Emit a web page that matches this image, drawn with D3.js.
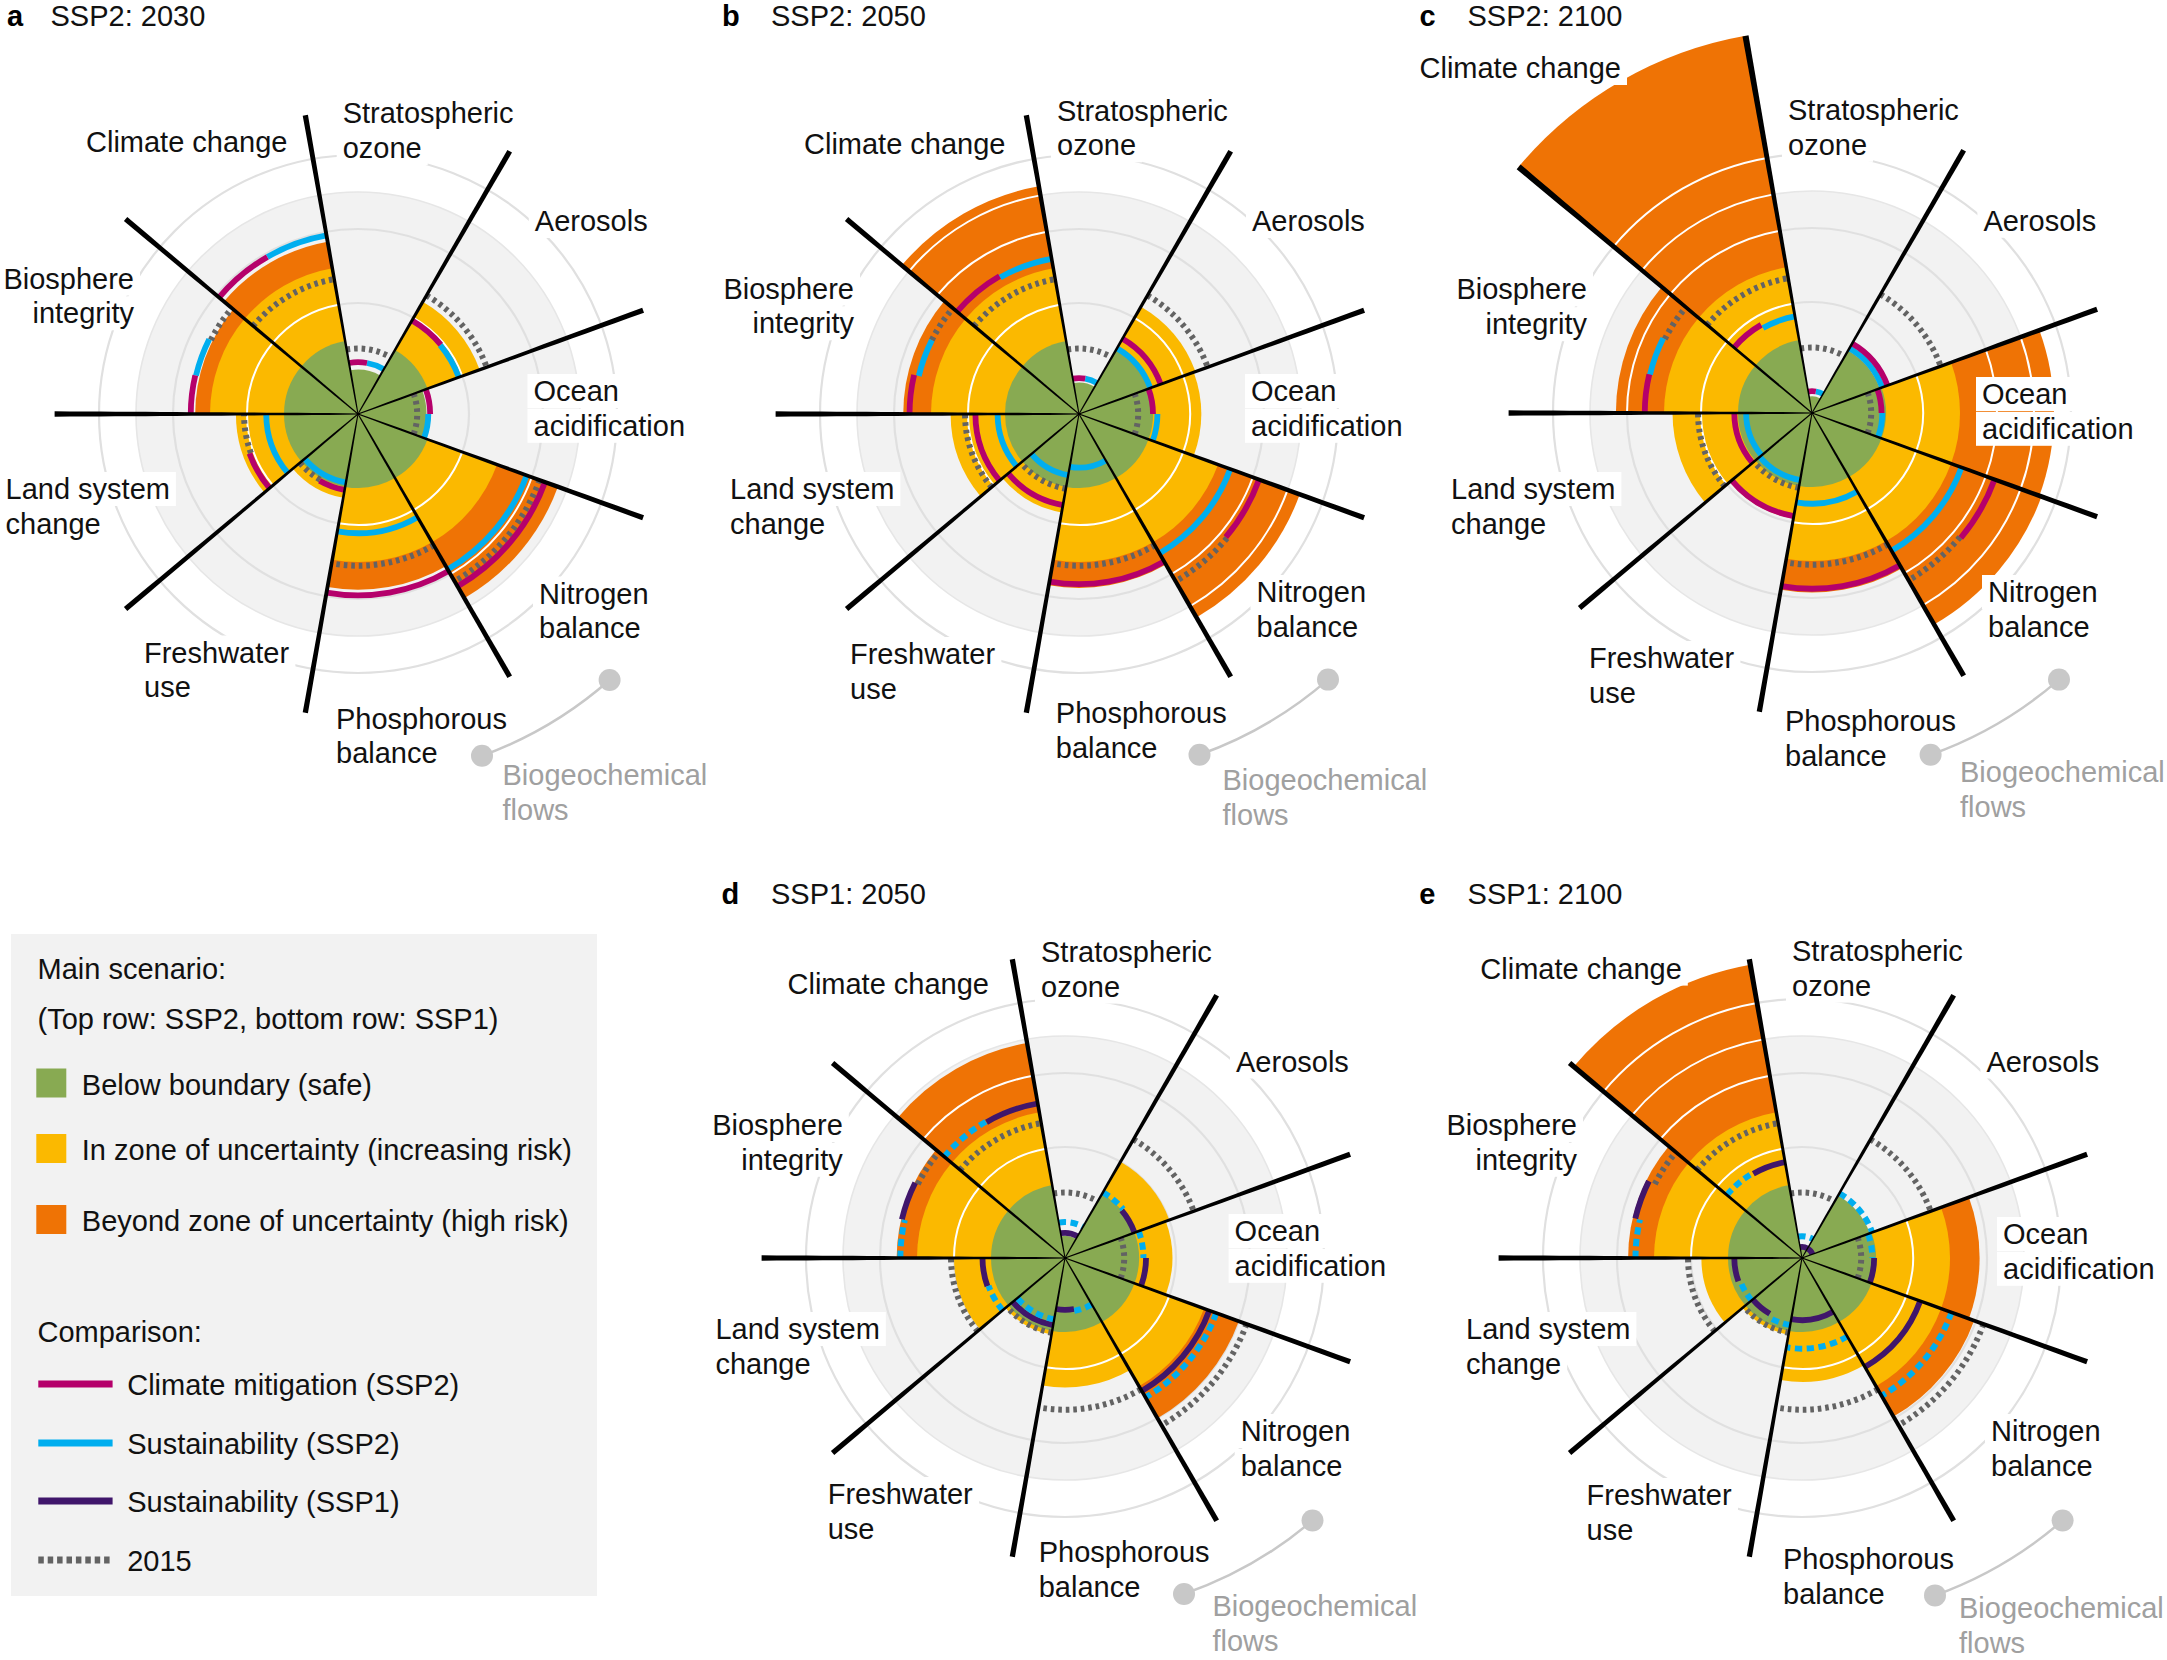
<!DOCTYPE html>
<html>
<head>
<meta charset="utf-8">
<script src="https://cdn.jsdelivr.net/npm/d3@7"></script>
<style>
html,body{margin:0;padding:0;background:#fff;}
svg text{font-family:"Liberation Sans",Arial,Helvetica,sans-serif;}
</style>
</head>
<body>
<svg id="fig" width="2167" height="1660" xmlns="http://www.w3.org/2000/svg"></svg>
<script>
// ---------- DATA (normalised control-variable units: 2 = boundary, 4 = top of zone of uncertainty) ----------
const boundaries = ["Climate change","Stratospheric ozone","Aerosols","Ocean acidification","Nitrogen balance","Phosphorous balance","Freshwater use","Land system change","Biosphere integrity"];
const labelLines = [["Climate change"],["Stratospheric","ozone"],["Aerosols"],["Ocean","acidification"],["Nitrogen","balance"],["Phosphorous","balance"],["Freshwater","use"],["Land system","change"],["Biosphere","integrity"]];

// main scenarios
const ssp2_2030 = [4.73, 1.2, 3.5, 1.85, 5.75, 4.75, 2.3, 3.3, 4.4];
const ssp2_2050 = [6.25, 0.85, 3.35, 3.3, 6.35, 4.7, 2.7, 3.47, 4.75];
const ssp2_2100 = [10.35, 0.45, 1.95, 6.54, 6.6, 4.85, 2.9, 3.77, 5.3];
const ssp1_2050 = [5.9, 0.6, 3.0, 2.9, 5.0, 3.5, 2.1, 3.0, 4.55];
const ssp1_2100 = [8.05, 0.3, 1.95, 4.8, 4.95, 3.35, 2.1, 2.72, 4.7];
// comparisons
const ref_2015        = [3.7, 1.77, 3.7, 1.6, 5.22, 4.1, 2.05, 3.08, 4.45];
const mitig_ssp2_2030 = [4.9, 1.4, 2.92, 1.95, 5.38, 4.9, 2.08, 3.12, 4.52];
const mitig_ssp2_2050 = [4.3, 0.97, 2.35, 2.0, 5.18, 4.6, 2.5, 2.8, 4.58];
const mitig_ssp2_2100 = [2.75, 0.59, 2.17, 1.88, 5.25, 4.75, 2.83, 2.1, 4.52];
const sust_ssp2_2030  = [4.9, 1.4, 2.9, 1.9, 4.85, 3.22, 1.88, 2.48, 4.5];
const sust_ssp2_2050  = [4.26, 0.97, 2.05, 2.12, 4.35, 1.45, 1.68, 2.2, 4.45];
const sust_ssp2_2100  = [2.65, 0.59, 2.02, 1.9, 4.3, 2.45, 1.84, 1.78, 4.5];
const sust_ssp1_2050  = [4.24, 0.68, 2.0, 2.19, 4.15, 1.4, 1.84, 2.23, 4.53];
const sust_ssp1_2100  = [2.63, 0.3, 0.3, 1.95, 3.4, 1.68, 1.74, 1.83, 4.63];

const COL = {safe:"#88aa52", zone:"#fbb900", high:"#ef7305", mitig:"#b5006b", sust2:"#00aeef", sust1:"#40166b", y2015:"#636363"};

// ---------- LAYOUT ----------
const charts = [
 {letter:"a", title:"SSP2: 2030", cx:358, cy:414, lx:7, tx:50.5, ty:26, main:ssp2_2030, ssp1:false,
  comps:[["y2015",ref_2015],["sust2",sust_ssp2_2030],["mitig",mitig_ssp2_2030]],
  labels:[[287.5,142.3],[342.7,113.3],[534.8,221],[533.5,391],[539,593.5],[336,718.5],[144,652.5],[5.5,489],[134,278.5]],
  bio:[502.5,775], dots:[[609.6,680],[482,755.8]]},
 {letter:"b", title:"SSP2: 2050", cx:1079, cy:414, lx:722, tx:771, ty:26, main:ssp2_2050, ssp1:false,
  comps:[["y2015",ref_2015],["sust2",sust_ssp2_2050],["mitig",mitig_ssp2_2050]],
  labels:[[1005.5,143.6],[1057,110.5],[1252,221],[1251,391],[1256.5,592],[1055.8,713],[850,654],[730,489],[854,288.5]],
  bio:[1222.5,780], dots:[[1328,679.6],[1199.5,754.7]]},
 {letter:"c", title:"SSP2: 2100", cx:1812, cy:413, lx:1419.6, tx:1467.5, ty:26, main:ssp2_2100, ssp1:false,
  comps:[["y2015",ref_2015],["sust2",sust_ssp2_2100],["mitig",mitig_ssp2_2100]],
  labels:[[1621,68],[1788,110],[1983.4,220.8],[1982,394],[1988,592],[1785,721],[1589,658],[1451,489],[1587,289.4]],
  bio:[1960,772], dots:[[2059,679.6],[1930.6,754.7]]},
 {letter:"d", title:"SSP1: 2050", cx:1065, cy:1258, lx:721.5, tx:771, ty:904, main:ssp1_2050, ssp1:true,
  comps:[["y2015",ref_2015],["sust1",sust_ssp1_2050],["sust2",sust_ssp2_2050]],
  labels:[[989,984],[1041,951.8],[1236,1061.5],[1234.6,1231],[1240.7,1431],[1038.7,1552],[827.7,1494],[715.4,1329],[842.8,1125]],
  bio:[1212.4,1606], dots:[[1312.5,1520.5],[1184,1594]]},
 {letter:"e", title:"SSP1: 2100", cx:1802, cy:1258, lx:1419.3, tx:1467.6, ty:904, main:ssp1_2100, ssp1:true,
  comps:[["y2015",ref_2015],["sust1",sust_ssp1_2100],["sust2",sust_ssp2_2100]],
  labels:[[1681.8,968.6],[1792,950.8],[1986.4,1061.5],[2003,1234],[1991,1431],[1783,1558.7],[1586.6,1495],[1466,1329],[1577,1125]],
  bio:[1959,1608], dots:[[2062.6,1520.5],[1935,1595.4]]}
];
const labelAnchor = ["end","start","start","start","start","start","start","start","end"];

const FS = 29, LH = 34.8;
const rScale = d3.scaleLinear().domain([0,1]).range([0,37]);
const aScale = d3.scaleBand().domain(boundaries).range([-50*Math.PI/180, 310*Math.PI/180]).padding(0);
const BW = aScale.bandwidth();
const GRID = [3,5,6,7];
const THR = 0.13;

const svg = d3.select("#fig");
svg.append("rect").attr("width",2167).attr("height",1660).attr("fill","#fff");

function arcStroke(r, a0, a1){
  const p = d3.path();
  p.arc(0,0,r,a0-Math.PI/2,a1-Math.PI/2,false);
  return p.toString();
}

function compStyle(key, ssp1){
  if(key==="y2015") return {c:COL.y2015, dash:"3.6,3.9", w:6};
  if(key==="mitig") return {c:COL.mitig, dash:null, w:5.8};
  if(key==="sust1") return {c:COL.sust1, dash:null, w:5.8};
  return ssp1 ? {c:COL.sust2, dash:"7.3,4.5", w:6} : {c:COL.sust2, dash:null, w:5.8};
}

function layoutComps(comps, i, a0, a1){
  const items = comps.map((c,k)=>({key:c[0], v:c[1][i], order:k}));
  const sorted = items.slice().sort((p,q)=>p.v-q.v);
  const groups=[]; let cur=[sorted[0]];
  for(let j=1;j<sorted.length;j++){
    if(sorted[j].v - sorted[j-1].v < THR) cur.push(sorted[j]);
    else {groups.push(cur); cur=[sorted[j]];}
  }
  groups.push(cur);
  const out=[];
  groups.forEach(g=>{
    g.sort((p,q)=>p.order-q.order);
    const w=(a1-a0)/g.length;
    g.forEach((it,idx)=>out.push(Object.assign({}, it, {s:a1-(idx+1)*w, e:a1-idx*w})));
  });
  out.sort((p,q)=>p.order-q.order);
  return out;
}

function addLabel(parent, lines, x, cy, anchor, color){
  const t = parent.append("g");
  lines.forEach((s,j)=>{
    const tx = t.append("text").attr("x",x).attr("y",cy+10+j*LH)
     .attr("text-anchor",anchor).attr("font-size",FS).attr("fill",color).text(s);
    const bb = tx.node().getBBox();
    t.insert("rect","text").attr("x",bb.x-6).attr("y",bb.y-1).attr("width",bb.width+12).attr("height",bb.height+2).attr("fill","#fff");
  });
}

// width profile of the divider lines (thin at centre, bold at the rim)
const lineWidth = r => 1.0 + 4.3*Math.pow(r/303, 0.75);

charts.forEach(ch=>{
  const g = svg.append("g").attr("transform",`translate(${ch.cx},${ch.cy})`);
  // background disc and grid
  g.append("circle").attr("r",rScale(6)).attr("fill","#f2f2f2");
  [3,5,7].forEach(k=>g.append("circle").attr("r",rScale(k)).attr("fill","none").attr("stroke","#e0e0e0").attr("stroke-width",2.2));
  g.append("circle").attr("r",rScale(6)).attr("fill","none").attr("stroke","#e6e6e6").attr("stroke-width",1.6);

  const arcGen = d3.arc();
  // wedges
  boundaries.forEach((b,i)=>{
    const a0=aScale(b), a1=a0+BW, v=ch.main[i];
    const layers=[];
    if(v>4) layers.push([v,COL.high]);
    if(v>2) layers.push([Math.min(v,4),COL.zone]);
    layers.push([Math.min(v,2),COL.safe]);
    layers.forEach(L=>{
      g.append("path").attr("d",arcGen({innerRadius:0,outerRadius:rScale(L[0]),startAngle:a0,endAngle:a1})).attr("fill",L[1]);
    });
    GRID.forEach(k=>{
      if(k < v-0.04) g.append("path").attr("d",arcStroke(rScale(k),a0,a1)).attr("fill","none").attr("stroke","#fff").attr("stroke-width",2);
    });
  });
  // comparison arcs
  boundaries.forEach((b,i)=>{
    const a0=aScale(b), a1=a0+BW;
    layoutComps(ch.comps,i,a0,a1).forEach(it=>{
      const st=compStyle(it.key, ch.ssp1);
      const p=g.append("path").attr("d",arcStroke(rScale(it.v),it.s,it.e)).attr("fill","none")
        .attr("stroke",st.c).attr("stroke-width",st.w);
      if(st.dash) p.attr("stroke-dasharray",st.dash);
    });
  });
  // divider lines (tapered)
  boundaries.forEach((b,k)=>{
    const ang=aScale(b);
    const vPrev=ch.main[(k+8)%9], vCur=ch.main[k];
    const rEnd=rScale(Math.max(8.2,vPrev,vCur));
    const ux=Math.sin(ang), uy=-Math.cos(ang), nx=Math.cos(ang), ny=Math.sin(ang);
    const steps=d3.range(0,21).map(s=>rEnd*s/20);
    const left=steps.map(r=>{const w=lineWidth(r)/2; return [ux*r+nx*w, uy*r+ny*w];});
    const right=steps.slice().reverse().map(r=>{const w=lineWidth(r)/2; return [ux*r-nx*w, uy*r-ny*w];});
    g.append("path").attr("d",d3.line()(left.concat(right))+"Z").attr("fill","#000");
  });
  // title
  svg.append("text").attr("x",ch.lx).attr("y",ch.ty).attr("font-size",FS).attr("font-weight","bold").attr("fill","#000").text(ch.letter);
  svg.append("text").attr("x",ch.tx).attr("y",ch.ty).attr("font-size",FS).attr("fill","#111").text(ch.title);
  // labels
  boundaries.forEach((b,i)=>{
    addLabel(svg, labelLines[i], ch.labels[i][0], ch.labels[i][1], labelAnchor[i], "#111");
  });
  addLabel(svg, ["Biogeochemical","flows"], ch.bio[0], ch.bio[1], "start", "#a0a0a0");
  // connector
  const [p1,p2]=ch.dots;
  svg.append("path").attr("d",`M${p1[0]},${p1[1]} A400,400 0 0 1 ${p2[0]},${p2[1]}`).attr("fill","none").attr("stroke","#c8c8c8").attr("stroke-width",2.5);
  ch.dots.forEach(p=>svg.append("circle").attr("cx",p[0]).attr("cy",p[1]).attr("r",11).attr("fill","#c8c8c8"));
});

// ---------- LEGEND ----------
const lg = svg.append("g");
lg.append("rect").attr("x",11).attr("y",934).attr("width",586).attr("height",662).attr("fill","#f2f2f2");
const lt=(x,cy,s)=>lg.append("text").attr("x",x).attr("y",cy+10).attr("font-size",FS).attr("fill","#111").text(s);
lt(37.5,969,"Main scenario:");
lt(37.5,1018.5,"(Top row: SSP2, bottom row: SSP1)");
const sq=[["Below boundary (safe)",COL.safe,1068.5,1085],["In zone of uncertainty (increasing risk)",COL.zone,1134,1150],["Beyond zone of uncertainty (high risk)",COL.high,1205,1221]];
sq.forEach(s=>{lg.append("rect").attr("x",36.3).attr("y",s[2]).attr("width",30).attr("height",29).attr("fill",s[1]); lt(81.8,s[3],s[0]);});
lt(37.5,1331.5,"Comparison:");
const ln=[["Climate mitigation (SSP2)",COL.mitig,null,1384],["Sustainability (SSP2)",COL.sust2,null,1443],["Sustainability (SSP1)",COL.sust1,null,1501],["2015",COL.y2015,"5.5,3.9",1560]];
ln.forEach(l=>{
  const p=lg.append("line").attr("x1",38.3).attr("x2",112.6).attr("y1",l[3]).attr("y2",l[3]).attr("stroke",l[1]).attr("stroke-width",7);
  if(l[2]) p.attr("stroke-dasharray",l[2]);
  lt(127.2,l[3]+1,l[0]);
});
</script>
</body>
</html>
